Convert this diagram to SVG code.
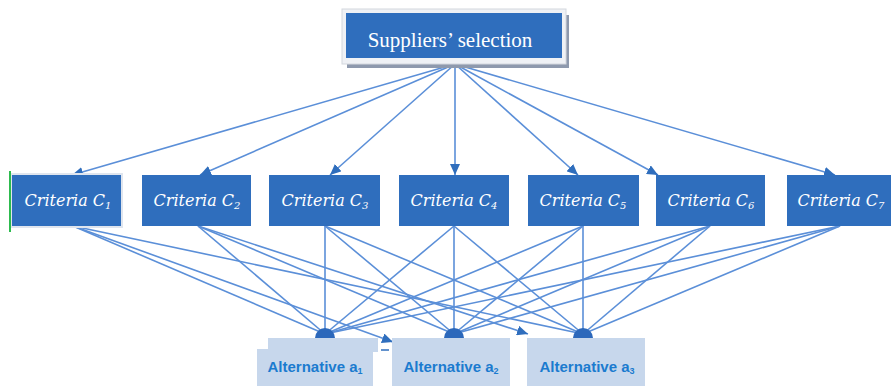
<svg xmlns="http://www.w3.org/2000/svg" width="891" height="386" viewBox="0 0 891 386">
<style>
.crit{fill:#2f6ebd}
.ctext{font-family:"DejaVu Serif","Liberation Serif",serif;font-style:italic;font-size:16px;fill:#ffffff}
.sub{font-size:10px}
.alt{fill:#c7d7ec}
.atext{font-family:"Liberation Sans",Arial,sans-serif;font-weight:bold;font-size:15px;fill:#1b7bcf}
.asub{font-size:9px}
.ln{stroke:#5b8fd8;stroke-width:1.6;fill:none}
.port{fill:#2c68bb}
</style>
<defs>
<marker id="ah" markerUnits="userSpaceOnUse" markerWidth="12" markerHeight="10" refX="11" refY="5" orient="auto">
<path d="M0,0 L11,5 L0,10 z" fill="#2f6ebd"/>
</marker>
</defs>
<g id="connectors">
<path class="ln" marker-end="url(#ah)" d="M455,64 L72,175"/>
<path class="ln" marker-end="url(#ah)" d="M455,64 L200,175"/>
<path class="ln" marker-end="url(#ah)" d="M455,64 L330,175"/>
<path class="ln" marker-end="url(#ah)" d="M455,64 L455,175"/>
<path class="ln" marker-end="url(#ah)" d="M455,64 L578,175"/>
<path class="ln" marker-end="url(#ah)" d="M455,64 L658,175"/>
<path class="ln" marker-end="url(#ah)" d="M455,64 L835,175"/>
<path class="ln" d="M73,226 L325,334"/>
<path class="ln" marker-end="url(#ah)" d="M73,226 L393,342"/>
<path class="ln" d="M73,226 L583,334"/>
<path class="ln" d="M198,226 L325,334"/>
<path class="ln" d="M198,226 L454,334"/>
<path class="ln" marker-end="url(#ah)" d="M198,226 L528,334"/>
<path class="ln" d="M325,226 L325,334"/>
<path class="ln" d="M325,226 L454,334"/>
<path class="ln" d="M325,226 L583,334"/>
<path class="ln" d="M454,226 L325,334"/>
<path class="ln" d="M454,226 L454,334"/>
<path class="ln" d="M454,226 L583,334"/>
<path class="ln" d="M583,226 L325,334"/>
<path class="ln" d="M583,226 L454,334"/>
<path class="ln" d="M583,226 L583,334"/>
<path class="ln" d="M710,226 L325,334"/>
<path class="ln" d="M710,226 L454,334"/>
<path class="ln" d="M710,226 L583,334"/>
<path class="ln" d="M840,226 L325,334"/>
<path class="ln" d="M840,226 L454,334"/>
<path class="ln" d="M840,226 L583,334"/>
</g>
<g id="root">
<rect x="347" y="15" width="222" height="53" fill="#8e99ad"/>
<rect x="342" y="9" width="224" height="55" fill="#eff1f5" stroke="#d3d7de" stroke-width="1"/>
<rect x="346" y="13" width="216" height="45" class="crit"/>
<text x="450" y="47" text-anchor="middle" font-family="Liberation Serif,serif" font-size="21" fill="#ffffff">Suppliers’ selection</text>
</g>
<g id="c1">
<rect x="10" y="173" width="113" height="55" fill="#dfe5ee"/>
<rect x="12" y="175" width="109" height="51" class="crit"/>
<line x1="10" y1="171" x2="10" y2="232" stroke="#2dbb4e" stroke-width="2"/>
<text x="68" y="206" text-anchor="middle" class="ctext">Criteria C<tspan class="sub" dy="3">1</tspan></text>
</g>
<g id="c2">
<rect x="142" y="175" width="109" height="51" class="crit"/>
<text x="197" y="206" text-anchor="middle" class="ctext">Criteria  C<tspan class="sub" dy="3">2</tspan></text>
</g>
<g id="c3">
<rect x="269" y="175" width="111" height="51" class="crit"/>
<text x="325" y="206" text-anchor="middle" class="ctext">Criteria  C<tspan class="sub" dy="3">3</tspan></text>
</g>
<g id="c4">
<rect x="399" y="175" width="110" height="51" class="crit"/>
<text x="454" y="206" text-anchor="middle" class="ctext">Criteria  C<tspan class="sub" dy="3">4</tspan></text>
</g>
<g id="c5">
<rect x="528" y="175" width="111" height="51" class="crit"/>
<text x="583" y="206" text-anchor="middle" class="ctext">Criteria  C<tspan class="sub" dy="3">5</tspan></text>
</g>
<g id="c6">
<rect x="656" y="175" width="109" height="51" class="crit"/>
<text x="711" y="206" text-anchor="middle" class="ctext">Criteria  C<tspan class="sub" dy="3">6</tspan></text>
</g>
<g id="c7">
<rect x="787" y="175" width="104" height="51" class="crit"/>
<text x="841" y="206" text-anchor="middle" class="ctext">Criteria  C<tspan class="sub" dy="3">7</tspan></text>
</g>
<g id="a1">
<rect x="268" y="338" width="110" height="14" class="alt"/>
<rect x="257" y="349" width="116" height="37" class="alt"/>
<line x1="381" y1="350" x2="389" y2="350" stroke="#2f6ebd" stroke-width="1.5"/>
<path class="port" d="M315,338 A10,10 0 0 1 335,338 z"/>
<text x="315" y="372" text-anchor="middle" class="atext">Alternative a<tspan class="asub" dy="2">1</tspan></text>
</g>
<g id="a2">
<rect x="392" y="338" width="118" height="48" class="alt"/>
<path class="port" d="M444,338 A10,10 0 0 1 464,338 z"/>
<text x="451" y="372" text-anchor="middle" class="atext">Alternative a<tspan class="asub" dy="2">2</tspan></text>
</g>
<g id="a3">
<rect x="527" y="338" width="118" height="48" class="alt"/>
<path class="port" d="M573,338 A10,10 0 0 1 593,338 z"/>
<text x="587" y="372" text-anchor="middle" class="atext">Alternative a<tspan class="asub" dy="2">3</tspan></text>
</g>
</svg>
